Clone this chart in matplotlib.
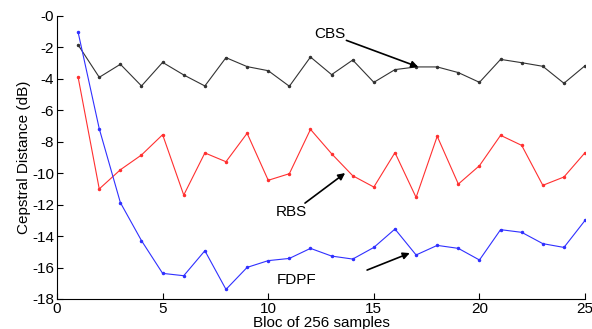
import matplotlib
matplotlib.use("Agg")
import matplotlib.pyplot as plt
from matplotlib.ticker import FuncFormatter

plt.rcParams['font.family'] = ['Liberation Sans', 'DejaVu Sans']

# donnees
blocs = list(range(1, 26))
cbs = [-1.84, -3.90, -3.07, -4.45, -2.95, -3.75, -4.45, -2.65, -3.22, -3.48,
       -4.47, -2.61, -3.73, -2.80, -4.22, -3.41, -3.24, -3.24, -3.60, -4.22,
       -2.76, -2.97, -3.20, -4.28, -3.16]
rbs = [-3.90, -11.00, -9.78, -8.84, -7.55, -11.39, -8.71, -9.27, -7.46, -10.45,
       -10.03, -7.21, -8.76, -10.16, -10.88, -8.69, -11.54, -7.65, -10.69, -9.52,
       -7.59, -8.23, -10.77, -10.24, -8.69]
fdpf = [-1.04, -7.17, -11.87, -14.29, -16.37, -16.52, -14.93, -17.39, -15.99, -15.56,
        -15.42, -14.78, -15.27, -15.46, -14.72, -13.55, -15.20, -14.59, -14.78, -15.52,
        -13.59, -13.76, -14.48, -14.72, -13.00]

fig = plt.figure(figsize=(5.92, 3.29), dpi=100)
ax = fig.add_axes([0.0963, 0.0912, 0.892, 0.8602])

ax.plot(blocs, cbs, color='#333333', lw=0.8, marker='.', ms=3)
ax.plot(blocs, rbs, color='#ff3030', lw=0.8, marker='.', ms=3)
ax.plot(blocs, fdpf, color='#3030ff', lw=0.8, marker='.', ms=3)

ax.set_xlim(0, 25)
ax.set_ylim(-18, 0)
ax.set_xticks([0, 5, 10, 15, 20, 25])
ax.set_yticks(range(-18, 1, 2))
ax.yaxis.set_major_formatter(FuncFormatter(lambda v, p: '-0' if v == 0 else '%d' % v))
ax.tick_params(direction='in', labelsize=11, length=4, width=0.8, pad=2)
for s in ['top', 'right']:
    ax.spines[s].set_visible(False)

ax.set_xlabel('Bloc of 256 samples', fontsize=11, labelpad=0)
ax.set_ylabel('Cepstral Distance (dB)', fontsize=11, labelpad=1)

fleche = dict(arrowstyle='-|>', color='black', lw=1.2, mutation_scale=10, shrinkA=0, shrinkB=0)
ax.text(12.9, -1.15, 'CBS', fontsize=11, ha='center', va='center')
ax.annotate('', xy=(17.1, -3.24), xytext=(13.7, -1.55), arrowprops=fleche)
ax.text(11.1, -12.47, 'RBS', fontsize=11, ha='center', va='center')
ax.annotate('', xy=(13.64, -9.99), xytext=(11.74, -11.9), arrowprops=fleche)
ax.text(11.36, -16.8, 'FDPF', fontsize=11, ha='center', va='center')
ax.annotate('', xy=(16.7, -15.08), xytext=(14.68, -16.16), arrowprops=fleche)

fig.savefig('out.png', dpi=100)
